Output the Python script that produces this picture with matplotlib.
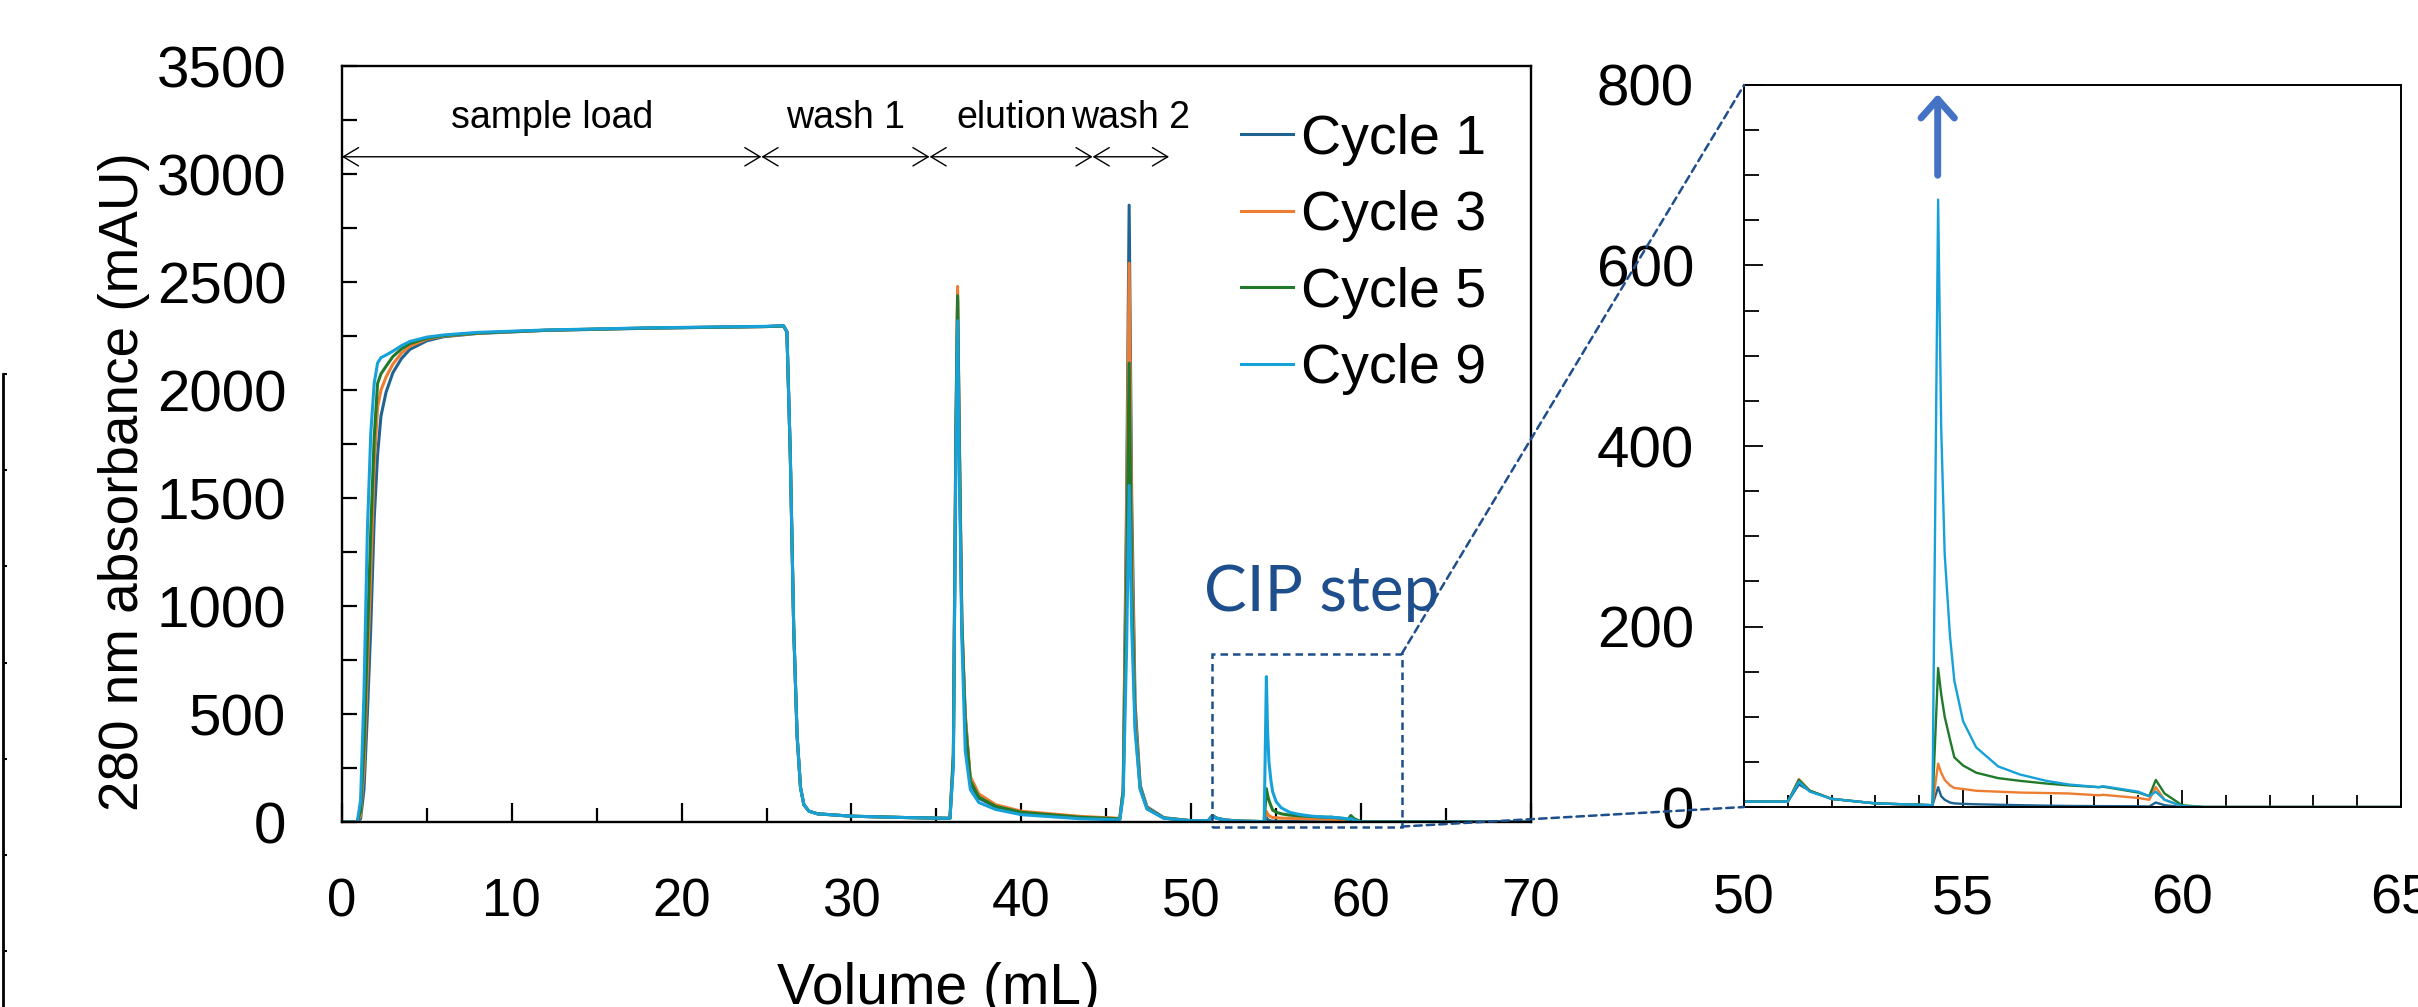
import matplotlib.pyplot as plt
from matplotlib.patches import Rectangle, ConnectionPatch
from matplotlib.ticker import MultipleLocator

# elution volume grid (mL), shared by all cycles
volume = [0, 0.9, 1.1, 1.3, 1.5, 1.7, 1.9, 2.1, 2.3, 2.6,
          3.0, 3.5, 4.0, 5.0, 6.0, 8.0, 12.0, 18.0, 25.0, 26.0,
          26.2, 26.4, 26.6, 26.8, 27.0, 27.2, 27.5, 28.0, 30.0, 33.0,
          35.8, 36.0, 36.15, 36.25, 36.35, 36.5, 36.7, 37.0, 37.5, 38.5,
          40.0, 43.5, 45.8, 46.0, 46.2, 46.35, 46.5, 46.7, 47.0, 47.4,
          48.4, 50.0, 51.0, 51.25, 51.5, 52.0, 53.0, 54.3, 54.43, 54.5,
          54.58, 54.7, 54.8, 55.0, 55.3, 55.8, 56.3, 56.9, 57.4, 58.1,
          58.2, 59.0, 59.25, 59.4, 59.6, 60.0, 60.5, 70.0]

# 280 nm absorbance (mAU)
cycle1 = [0, 0, 15, 150, 500, 900, 1400, 1700, 1880, 1990,
          2080, 2145, 2188, 2228, 2247, 2262, 2276, 2286, 2294, 2297,
          2270, 1700, 900, 400, 160, 80, 50, 38, 27, 21,
          17, 280, 1750, 2420, 1750, 900, 500, 180, 110, 70,
          44, 22, 15, 150, 1500, 2856, 1500, 550, 170, 70,
          20, 6, 6, 25, 18, 9, 4, 2, 22, 12,
          8, 5, 4, 3.5, 3, 2.5, 2, 1.5, 1.2, 1,
          1, 0.8, 0.6, 5, 2, 0, 0, 0]
cycle3 = [0, 0, 30, 250, 700, 1150, 1650, 1920, 2000, 2060,
          2120, 2170, 2203, 2236, 2250, 2263, 2277, 2287, 2294, 2297,
          2270, 1700, 900, 400, 160, 80, 50, 38, 27, 21,
          17, 320, 1850, 2480, 1800, 950, 480, 210, 130, 80,
          50, 26, 17, 150, 1350, 2587, 1350, 500, 160, 65,
          18, 6, 6, 31, 18, 9, 4, 2, 48, 38,
          30, 24, 21, 20, 18, 17, 16, 15.5, 15, 13,
          13.5, 10, 8, 22, 8, 1, 0, 0]
cycle5 = [0, 0, 50, 350, 850, 1350, 1780, 2030, 2075, 2110,
          2155, 2190, 2215, 2240, 2252, 2264, 2277, 2287, 2294, 2297,
          2270, 1700, 900, 400, 160, 80, 50, 38, 27, 21,
          17, 310, 1820, 2437, 1780, 930, 460, 190, 115, 72,
          45, 22, 15, 140, 1100, 2125, 1100, 450, 155, 62,
          18, 6, 6, 30, 18, 9, 4, 2, 154, 125,
          100, 75, 55, 46, 38, 32, 29, 26, 24, 22,
          22.5, 16, 12, 30, 15, 2, 0, 0]
cycle9 = [0, 0, 100, 600, 1350, 1800, 2030, 2125, 2150, 2162,
          2180, 2205, 2225, 2245, 2255, 2267, 2278, 2288, 2295, 2298,
          2270, 1700, 900, 400, 160, 80, 50, 38, 27, 21,
          17, 260, 1700, 2321, 1650, 850, 330, 150, 90, 58,
          34, 15, 10, 120, 800, 1558, 900, 420, 150, 60,
          17, 6, 6, 28, 17, 9, 4, 2, 673, 420,
          280, 190, 140, 95, 66, 45, 36, 29, 25, 22,
          23, 17, 12, 17, 8, 1, 0, 0]

series = [("Cycle 1", cycle1, "#1F6391"),
          ("Cycle 3", cycle3, "#ED7D31"),
          ("Cycle 5", cycle5, "#217A2B"),
          ("Cycle 9", cycle9, "#17A1D9")]

# step annotations: (label, start, end)
steps = [("sample load", 0, 24.7), ("wash 1", 24.7, 34.6),
         ("elution", 34.6, 44.2), ("wash 2", 44.2, 48.7)]
step_level = 3080

cip_x = (51.2, 62.4)
cip_y = (-21, 779)

REG = ['Liberation Sans', 'DejaVu Sans']
BOXBLUE = '#1F4E8C'

plt.rcParams['font.family'] = REG

fig = plt.figure(figsize=(24.18, 10.07), dpi=100)
ax = fig.add_axes([0.1414, 0.1837, 0.4917, 0.7507])
ax2 = fig.add_axes([0.7213, 0.1986, 0.2717, 0.717])

for name, vals, col in series:
    ax.plot(volume, vals, color=col, lw=2.2, label=name)
    ax2.plot(volume, vals, color=col, lw=1.7)

# main panel
ax.set_xlim(0, 70)
ax.set_ylim(0, 3500)
ax.xaxis.set_major_locator(MultipleLocator(10))
ax.xaxis.set_minor_locator(MultipleLocator(5))
ax.yaxis.set_major_locator(MultipleLocator(500))
ax.yaxis.set_minor_locator(MultipleLocator(250))
ax.tick_params(which='both', direction='in', width=1.6)
ax.tick_params(axis='x', which='major', length=14, pad=40, labelsize=38)
ax.tick_params(axis='x', which='minor', length=10)
ax.tick_params(axis='y', which='major', length=11, pad=40, labelsize=42)
ax.tick_params(axis='y', which='minor', length=11)
for sp in ax.spines.values():
    sp.set_linewidth(1.7)
ax.set_xlabel("Volume (mL)", fontsize=41, va='top')
ax.set_ylabel("280 nm absorbance (mAU)", fontsize=39.5)
ax.xaxis.set_label_coords(0.502, -0.185)
ax.yaxis.set_label_coords(-0.161, 0.45)

for label, x0, x1 in steps:
    ax.annotate('', xy=(x0, step_level), xytext=(x1, step_level),
                arrowprops=dict(arrowstyle='<->,head_length=0.5,head_width=0.3',
                                lw=1.0, color='black', mutation_scale=22,
                                shrinkA=0, shrinkB=0))
    ax.text((x0 + x1) / 2, step_level + 95, label, ha='center', va='bottom',
            fontsize=27)

ax.legend(loc='upper left', bbox_to_anchor=(0.5131, 0.887),
          bbox_transform=fig.transFigure, frameon=False, fontsize=40,
          handlelength=0.95, handletextpad=0.13, labelspacing=0.44,
          borderpad=0, borderaxespad=0)

ax.add_patch(Rectangle((cip_x[0], cip_y[0]), cip_x[1] - cip_x[0],
                       cip_y[1] - cip_y[0], fill=False, ls=(0, (3, 2)),
                       ec=BOXBLUE, lw=1.8, clip_on=False, zorder=5))
ax.text(57.7, 1060, "CIP step", color=BOXBLUE, fontsize=46, family='Lato',
        ha='center', va='center')

# inset
ax2.set_xlim(50, 65)
ax2.set_ylim(0, 800)
ax2.xaxis.set_major_locator(MultipleLocator(5))
ax2.xaxis.set_minor_locator(MultipleLocator(1))
ax2.yaxis.set_major_locator(MultipleLocator(200))
ax2.yaxis.set_minor_locator(MultipleLocator(50))
ax2.tick_params(which='both', direction='in', width=1.3)
ax2.tick_params(axis='x', which='major', length=12, pad=48, labelsize=40)
ax2.tick_params(axis='x', which='minor', length=9)
ax2.tick_params(axis='y', which='major', length=14, pad=36, labelsize=42)
ax2.tick_params(axis='y', which='minor', length=11)
for sp in ax2.spines.values():
    sp.set_linewidth(1.4)
ax2.annotate('', xy=(54.42, 790), xytext=(54.42, 700),
             arrowprops=dict(arrowstyle='->,head_length=0.45,head_width=0.4',
                             lw=5, color='#4472C4', mutation_scale=30,
                             shrinkA=0, shrinkB=0))

for (xa, ya), (xb, yb) in [((cip_x[1], cip_y[1]), (50, 800)),
                           ((cip_x[1], cip_y[0]), (50, 0))]:
    con = ConnectionPatch((xa, ya), (xb, yb), coordsA=ax.transData,
                          coordsB=ax2.transData, color=BOXBLUE, lw=1.8,
                          ls=(0, (3, 2)), zorder=6)
    fig.add_artist(con)

# edge of the neighbouring panel, cut off at the left
ax0 = fig.add_axes([-0.05, 0.0, 0.0512, 0.6286])
ax0.set_ylim(0.42, 7.0)
ax0.set_yticks(range(1, 8))
ax0.yaxis.tick_right()
ax0.tick_params(axis='y', direction='out', length=3, width=1.5, labelright=False)
ax0.set_xticks([])
for k in ['top', 'bottom', 'left']:
    ax0.spines[k].set_visible(False)
ax0.spines['right'].set_linewidth(2)
ax0.patch.set_visible(False)

fig.savefig('out.png', dpi=100)
